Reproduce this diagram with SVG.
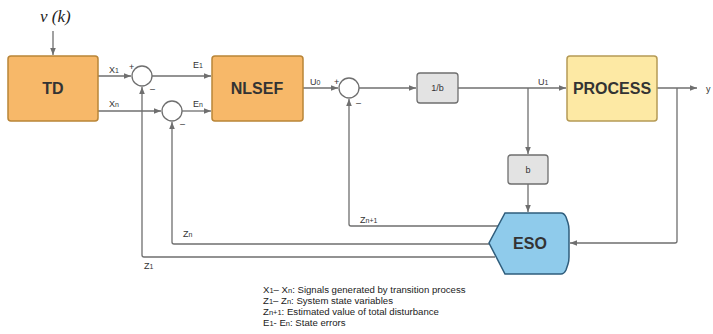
<svg xmlns="http://www.w3.org/2000/svg" width="713" height="334" viewBox="0 0 713 334">
<style>
.ln{fill:none;stroke:#6f6f6f;stroke-width:1.3}
.org{fill:#f7b869;stroke:#b98537;stroke-width:1.5}
.yel{fill:#fde9a4;stroke:#b59a55;stroke-width:1.5}
.gry{fill:#e3e3e3;stroke:#6f6f6f;stroke-width:1.3}
.blu{fill:#8fcbeb;stroke:#2f5d7c;stroke-width:1.5}
.sum{fill:#fff;stroke:#6f6f6f;stroke-width:1.3}
.big{font-family:"Liberation Sans",Arial,sans-serif;font-weight:bold;font-size:16px;fill:#333;text-anchor:middle}
.lbl{font-family:"Liberation Sans",Arial,sans-serif;font-size:9px;fill:#333}
.sm{font-size:7px}
.leg{font-family:"Liberation Sans",Arial,sans-serif;font-size:9.6px;fill:#222}
.lsm{font-size:7.5px}
</style>
<defs>
<marker id="ah" viewBox="0 0 10 10" refX="10" refY="5" markerWidth="7" markerHeight="7" orient="auto" markerUnits="userSpaceOnUse">
<path d="M0,1 L10,5 L0,9 z" fill="#6f6f6f"/>
</marker>
</defs>
<rect width="713" height="334" fill="#fff"/>
<text x="40" y="22" font-family="Liberation Serif,serif" font-style="italic" font-size="17" fill="#222">v (k)</text>
<g id="connectors">
<path class="ln" d="M53,31 V55" marker-end="url(#ah)"/>
<path class="ln" d="M98,76 H131" marker-end="url(#ah)"/>
<path class="ln" d="M98,111 H161" marker-end="url(#ah)"/>
<path class="ln" d="M152,76 H211" marker-end="url(#ah)"/>
<path class="ln" d="M182,111 H211" marker-end="url(#ah)"/>
<path class="ln" d="M303,88 H338" marker-end="url(#ah)"/>
<path class="ln" d="M359,88 H416" marker-end="url(#ah)"/>
<path class="ln" d="M458,88 H566" marker-end="url(#ah)"/>
<path class="ln" d="M528,88 V154" marker-end="url(#ah)"/>
<path class="ln" d="M528,184 V212" marker-end="url(#ah)"/>
<path class="ln" d="M657,88 H697" marker-end="url(#ah)"/>
<path class="ln" d="M677,88 V241 Q677,243 675,243 H570" marker-end="url(#ah)"/>
<path class="ln" d="M498,226 H351 Q349,226 349,224 V99" marker-end="url(#ah)"/>
<path class="ln" d="M489,244 H174 Q172,244 172,242 V122" marker-end="url(#ah)"/>
<path class="ln" d="M495,257 H144 Q142,257 142,255 V87" marker-end="url(#ah)"/>
</g>
<g id="td"><rect class="org" x="8" y="56" width="90" height="65" rx="3"/><text class="big" x="53" y="94">TD</text></g>
<g id="sum1"><circle class="sum" cx="142" cy="76" r="10"/><text class="lbl" x="129" y="70">+</text><text class="lbl" x="150" y="92">–</text></g>
<g id="sum2"><circle class="sum" cx="172" cy="111" r="10"/><text class="lbl" x="180" y="127">–</text></g>
<g id="nlsef"><rect class="org" x="212" y="56" width="91" height="65" rx="3"/><text class="big" x="257" y="94">NLSEF</text></g>
<g id="sum3"><circle class="sum" cx="349" cy="88" r="10"/><text class="lbl" x="334" y="85">+</text><text class="lbl" x="356" y="106">–</text></g>
<g id="inv_b"><rect class="gry" x="417" y="73" width="41" height="30" rx="3"/><text class="lbl" x="437.5" y="91" text-anchor="middle">1/b</text></g>
<g id="process"><rect class="yel" x="567" y="56" width="90" height="65" rx="3"/><text class="big" x="612" y="94">PROCESS</text></g>
<g id="b"><rect class="gry" x="508" y="155" width="40" height="29" rx="3"/><text class="lbl" x="528" y="173" text-anchor="middle">b</text></g>
<g id="eso"><path class="blu" d="M505,213 H561 Q564,213 566,217 L568,223 Q569,226 569,230 V257 Q569,261 568,264 L566,270 Q564,274 561,274 H505 L489,243 Z"/><text class="big" x="530" y="249">ESO</text></g>
<g id="labels">
<text class="lbl" x="109" y="73">X<tspan class="sm">1</tspan></text>
<text class="lbl" x="109" y="107">X<tspan class="sm">n</tspan></text>
<text class="lbl" x="193" y="68">E<tspan class="sm">1</tspan></text>
<text class="lbl" x="193" y="107">E<tspan class="sm">n</tspan></text>
<text class="lbl" x="310" y="85">U<tspan class="sm">0</tspan></text>
<text class="lbl" x="538" y="85">U<tspan class="sm">1</tspan></text>
<text class="lbl" x="706" y="92" font-size="12">y</text>
<text class="lbl" x="360" y="223">Z<tspan class="sm">n+1</tspan></text>
<text class="lbl" x="183" y="237">Z<tspan class="sm">n</tspan></text>
<text class="lbl" x="144" y="269">Z<tspan class="sm">1</tspan></text>
</g>
<g id="legend">
<text class="leg" x="263" y="293">X<tspan class="lsm">1</tspan>– X<tspan class="lsm">n</tspan>: Signals generated by transition process</text>
<text class="leg" x="263" y="304">Z<tspan class="lsm">1</tspan>– Z<tspan class="lsm">n</tspan>: System state variables</text>
<text class="leg" x="263" y="315">Z<tspan class="lsm">n+1</tspan>: Estimated value of total disturbance</text>
<text class="leg" x="263" y="326">E<tspan class="lsm">1</tspan>- E<tspan class="lsm">n</tspan>: State errors</text>
</g>
</svg>
